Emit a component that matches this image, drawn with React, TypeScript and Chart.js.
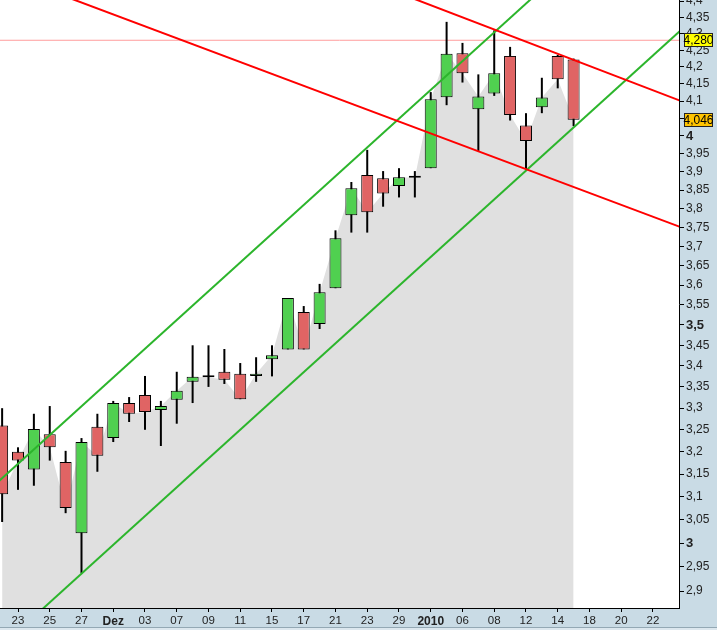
import React, { useEffect, useRef } from 'react';
import { Chart, registerables } from 'chart.js';

Chart.register(...registerables);

// Trading days (index 0 = 20 Nov 2009); every second one is labelled on the axis
const dayLabels = [
  '20', '23', '24', '25', '26', '27', '30', 'Dez', '02', '03', '04', '07', '08', '09', '10', '11',
  '14', '15', '16', '17', '18', '21', '22', '23', '28', '29', '30', '2010', '05', '06', '07', '08',
  '11', '12', '13', '14', '15', '18', '19', '20', '21', '22',
];

const opens = [
  3.26, 3.2, 3.16, 3.24, 3.177, 3.021, 3.257, 3.231, 3.312, 3.331, 3.296, 3.32, 3.362, 3.373,
  3.386, 3.381, 3.376, 3.416, 3.44, 3.532, 3.502, 3.592, 3.782, 3.891, 3.882, 3.861, 3.884,
  3.91, 4.111, 4.241, 4.076, 4.122, 4.233, 4.03, 4.082, 4.233, 4.222,
];
const highs = [
  3.3, 3.21, 3.287, 3.305, 3.202, 3.231, 3.287, 3.317, 3.326, 3.376, 3.317, 3.386, 3.45, 3.45,
  3.441, 3.407, 3.421, 3.45, 3.567, 3.547, 3.603, 3.742, 3.872, 3.961, 3.902, 3.91, 3.902,
  4.126, 4.336, 4.272, 4.178, 4.31, 4.26, 4.065, 4.168, 4.236, 4.225,
];
const lows = [
  3.045, 3.115, 3.124, 3.18, 3.064, 2.937, 3.155, 3.222, 3.268, 3.25, 3.213, 3.264, 3.312, 3.35,
  3.357, 3.321, 3.362, 3.375, 3.44, 3.44, 3.49, 3.592, 3.736, 3.736, 3.805, 3.83, 3.83,
  3.91, 4.088, 4.154, 3.958, 4.115, 4.044, 3.907, 4.065, 4.137, 4.028,
];
const closes = [
  3.105, 3.18, 3.252, 3.21, 3.075, 3.222, 3.191, 3.312, 3.287, 3.291, 3.305, 3.341, 3.374, 3.373,
  3.367, 3.321, 3.381, 3.426, 3.567, 3.44, 3.582, 3.721, 3.855, 3.79, 3.841, 3.885, 3.884,
  4.105, 4.239, 4.181, 4.113, 4.181, 4.06, 3.986, 4.11, 4.164, 4.046,
];

const yTickValues = [
  4.4, 4.35, 4.3, 4.25, 4.2, 4.15, 4.1, 4.05, 4, 3.95, 3.9, 3.85, 3.8, 3.75, 3.7, 3.65, 3.6,
  3.55, 3.5, 3.45, 3.4, 3.35, 3.3, 3.25, 3.2, 3.15, 3.1, 3.05, 3, 2.95, 2.9,
];
const boldYTicks = [4, 3.5, 3];
const boldXLabels = ['Dez', '2010'];

const markerLevel = 4.28;

// Trend lines: [dayIndex, price] end points
const greenUpper = [[-1, 3.109], [45, 4.962]];
const greenLower = [[-1, 2.762], [45, 4.41]];
const redUpper = [[-1, 4.948], [45, 4.061]];
const redLower = [[-1, 4.508], [45, 3.715]];

const PANEL = '#c9dbe5';
const FONT = "'Liberation Sans', Arial, sans-serif";
const BULL = '#50d050';
const BEAR = '#e06464';

const fmt = (v: number) => String(v).replace('.', ',');

const bgPlugin = {
  id: 'bgPlugin',
  beforeDraw(chart: any) {
    const { ctx, chartArea: a, width, height } = chart;
    ctx.save();
    ctx.fillStyle = PANEL;
    ctx.fillRect(0, 0, width, height);
    ctx.fillStyle = '#ffffff';
    ctx.fillRect(a.left, a.top, a.right - a.left, a.bottom - a.top);
    ctx.fillStyle = '#93a8b4';
    ctx.fillRect(0, height - 3, width, 1);
    ctx.fillStyle = '#dce7ee';
    ctx.fillRect(0, height - 2, width, 2);
    ctx.restore();
  },
  afterDraw(chart: any) {
    const { ctx, chartArea: a } = chart;
    const ys = chart.scales.y;
    const items = [
      { v: markerLevel, fill: '#ffff00' },
      { v: closes[closes.length - 1], fill: '#ffc400' },
    ];
    ctx.save();
    for (const it of items) {
      const py = Math.round(ys.getPixelForValue(it.v));
      const x0 = a.right + 5;
      ctx.fillStyle = it.fill;
      ctx.fillRect(x0, py - 7, 29, 14);
      ctx.strokeStyle = '#222';
      ctx.lineWidth = 1;
      ctx.strokeRect(x0 + 0.5, py - 6.5, 28, 13);
      ctx.fillStyle = '#000';
      ctx.font = `12px ${FONT}`;
      ctx.textAlign = 'center';
      ctx.textBaseline = 'middle';
      ctx.fillText(it.v.toFixed(3).replace('.', ','), x0 + 14.5, py + 0.5);
    }
    ctx.restore();
  },
};

export default function App() {
  const ref = useRef<HTMLCanvasElement>(null);

  useEffect(() => {
    const canvas = ref.current;
    if (!canvas) return;

    const toPts = (arr: number[][]) => arr.map(([x, y]) => ({ x, y }));
    const lineDs = (pts: number[][], color: string, w: number) => ({
      type: 'line' as const,
      data: toPts(pts),
      borderColor: color,
      borderWidth: w,
      pointRadius: 0,
      fill: false,
      tension: 0,
      clip: 0,
      order: 1,
    });

    const chart = new Chart(canvas, {
      type: 'bar',
      data: {
        datasets: [
          lineDs(redUpper, '#ff0000', 2),
          lineDs(redLower, '#ff0000', 2),
          lineDs(greenUpper, '#2cb52c', 2),
          lineDs(greenLower, '#2cb52c', 2),
          {
            type: 'bar',
            data: opens.map((o, i) => ({ x: i, y: [o, closes[i]] })),
            backgroundColor: opens.map((o, i) => (closes[i] >= o ? BULL : BEAR)),
            borderColor: '#000',
            borderWidth: 1,
            borderSkipped: false,
            barThickness: 12,
            grouped: false,
            minBarLength: 2,
            inflateAmount: 0,
            order: 5,
          } as any,
          {
            type: 'bar',
            data: lows.map((l, i) => ({ x: i, y: [l, highs[i]] })),
            backgroundColor: '#000',
            borderWidth: 0,
            barThickness: 2,
            grouped: false,
            inflateAmount: 0,
            order: 6,
          } as any,
          {
            type: 'line',
            data: [{ x: -1, y: markerLevel }, { x: 45, y: markerLevel }],
            borderColor: '#ff9c9c',
            borderWidth: 1,
            pointRadius: 0,
            fill: false,
            clip: 0,
            order: 8,
          } as any,
          {
            type: 'line',
            data: closes.map((c, i) => ({ x: i, y: c })),
            borderWidth: 0,
            borderColor: 'rgba(0,0,0,0)',
            backgroundColor: '#e0e0e0',
            pointRadius: 0,
            fill: 'start',
            tension: 0,
            order: 10,
          } as any,
        ],
      },
      options: {
        responsive: false,
        animation: false,
        events: [],
        layout: { padding: 0 },
        plugins: { legend: { display: false }, tooltip: { enabled: false } },
        scales: {
          x: {
            type: 'linear',
            position: 'bottom',
            min: -0.134,
            max: 42.64,
            offset: false,
            grid: { drawOnChartArea: false, tickLength: 4, color: '#000', offset: false },
            border: { display: true, color: '#000', width: 1 },
            afterBuildTicks: (scale: any) => {
              scale.ticks = dayLabels
                .map((_, i) => i)
                .filter((i) => i % 2 === 1)
                .map((i) => ({ value: i }));
            },
            afterFit: (scale: any) => {
              scale.height = 22;
              scale.paddingLeft = 0;
              scale.paddingRight = 0;
            },
            ticks: {
              autoSkip: false,
              maxRotation: 0,
              minRotation: 0,
              padding: 2,
              color: '#222',
              callback: (v: any) => dayLabels[Math.round(Number(v))] ?? '',
              font: (ctx: any) => {
                const lbl = dayLabels[Math.round(ctx.tick?.value ?? -1)];
                const b = boldXLabels.includes(lbl);
                return { family: FONT, size: b ? 12 : 11.5, weight: b ? 'bold' : 'normal' };
              },
            },
          },
          y: {
            type: 'logarithmic',
            position: 'right',
            min: 2.8654,
            max: 4.4035,
            grid: { drawOnChartArea: false, tickLength: 5, color: '#000' },
            border: { display: true, color: '#000', width: 1 },
            afterBuildTicks: (scale: any) => {
              scale.ticks = yTickValues.map((v) => ({ value: v }));
            },
            afterFit: (scale: any) => {
              scale.width = 38;
              scale.paddingTop = 0;
              scale.paddingBottom = 0;
            },
            ticks: {
              autoSkip: false,
              padding: 2,
              color: '#222',
              callback: (v: any) => fmt(Number(v)),
              font: (ctx: any) => {
                const v = ctx.tick?.value;
                const b = boldYTicks.some((t) => Math.abs(t - v) < 1e-9);
                return { family: FONT, size: b ? 13 : 12, weight: b ? 'bold' : 'normal' };
              },
            },
          },
        },
      } as any,
      plugins: [bgPlugin],
    });

    return () => chart.destroy();
  }, []);

  return (
    <div style={{ position: 'fixed', left: 0, top: 0, width: 717, height: 630 }}>
      <canvas ref={ref} width={717} height={630} style={{ display: 'block', width: 717, height: 630 }} />
    </div>
  );
}
